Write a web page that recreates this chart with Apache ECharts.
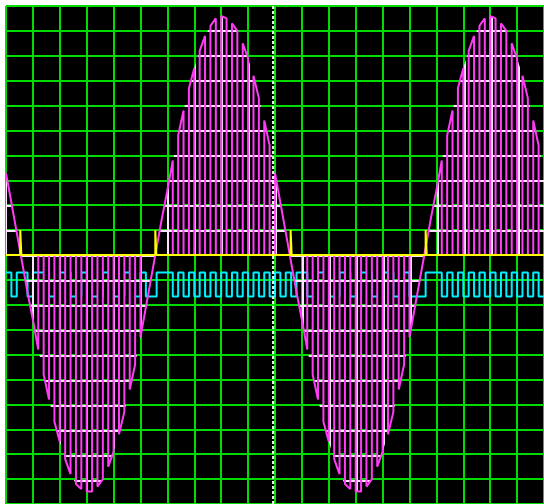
<!DOCTYPE html>
<html>
<head>
<meta charset="utf-8">
<style>
  html, body { margin: 0; padding: 0; background: #ffffff; }
  #scope { width: 544px; height: 504px; }
</style>
<script src="https://cdn.jsdelivr.net/npm/echarts@6/dist/echarts.min.js"></script>
</head>
<body>
<div id="scope"></div>
<script>
// Screen is 20 x 20 divisions; time runs along x, volts along y (divisions).
const SLOT = 0.2;            // width of one chopper slot, in divisions

// Envelope of the chopped sine at each slot edge (101 edges).
const envelope = [
  3.3, 2.1, 0.9, -0.3, -1.5, -2.6, -3.8, -4.8, -5.8, -6.7,
  -7.5, -8.2, -8.8, -9.2, -9.4, -9.5, -9.5, -9.3, -9.0, -8.5,
  -7.9, -7.2, -6.3, -5.4, -4.4, -3.3, -2.1, -0.9, 0.3, 1.5,
  2.6, 3.8, 4.8, 5.8, 6.7, 7.5, 8.2, 8.8, 9.2, 9.5,
  9.6, 9.5, 9.3, 9.0, 8.5, 7.9, 7.2, 6.3, 5.4, 4.4,
  3.3, 2.1, 0.9, -0.3, -1.5, -2.6, -3.8, -4.8, -5.8, -6.7,
  -7.5, -8.2, -8.8, -9.2, -9.4, -9.5, -9.5, -9.3, -9.0, -8.5,
  -7.9, -7.2, -6.3, -5.4, -4.4, -3.3, -2.1, -0.9, 0.3, 1.5,
  2.6, 3.8, 4.8, 5.8, 6.7, 7.5, 8.2, 8.8, 9.2, 9.5,
  9.6, 9.5, 9.3, 9.0, 8.5, 7.9, 7.2, 6.3, 5.4, 4.4,
  3.3
];

// Chopper state per slot: r = follows the sine near zero, 1 = pulse on, 0 = off.
const gateSegments = [
  "rrrrrr", "0101010101010101010",
  "rrrrrr", "0101010101010101010",
  "rrrrrr", "0101010101010101010",
  "rrrrrr", "0101010101010101010"
];

// Gate drive signal (cyan trace) per slot: 1 = high, 0 = low.
const driveSegments = [
  "101101", "1100110011001100110",
  "100111", "0101010101010101010",
  "101011", "0011001100110011001",
  "000111", "0101010101010101010"
];
const driveHigh = -0.7;
const driveLow = -1.67;

// Zero-cross detector pulses (yellow trace).
const zeroCrossX = [0.53, 5.55, 10.58, 15.6];
const zeroPulseHeight = 1.0;
const zeroPulseWidth = 0.04;

// Trigger cursor position.
const cursorX = 9.93;

// ---- build traces from the arrays above ----
const gate = gateSegments.join("");
const drive = driveSegments.join("");
const nSlots = gate.length;
const edgeX = k => +(k * SLOT).toFixed(4);

const choppedLine = [];
const choppedFill = [];
const envelopeArea = [];
const driveLine = [];
for (let k = 0; k < nSlots; k++) {
  const g = gate[k];
  const on = g !== "0";
  const a = on ? envelope[k] : 0;
  const b = on ? envelope[k + 1] : 0;
  choppedLine.push([edgeX(k), a], [edgeX(k + 1), b]);
  const fa = g === "1" ? envelope[k] : 0;
  const fb = g === "1" ? envelope[k + 1] : 0;
  choppedFill.push([edgeX(k), fa], [edgeX(k + 1), fb]);
  const lv = drive[k] === "1" ? driveHigh : driveLow;
  driveLine.push([edgeX(k), lv], [edgeX(k + 1), lv]);
}
for (let k = 0; k <= nSlots; k++) envelopeArea.push([edgeX(k), envelope[k]]);

const zeroLine = [[0, 0]];
zeroCrossX.forEach(x => {
  zeroLine.push([x, 0], [x, zeroPulseHeight], [x + zeroPulseWidth, zeroPulseHeight], [x + zeroPulseWidth, 0]);
});
zeroLine.push([20, 0]);

// Graticule lines seen through the signal area are drawn pale.
const DIV_W = 27, DIV_H = 25;
const tile = document.createElement("canvas");
tile.width = DIV_W; tile.height = DIV_H;
const tctx = tile.getContext("2d");
tctx.fillStyle = "#ffe2ff";
tctx.fillRect(5, 0, 2, DIV_H);
tctx.fillRect(0, 5, DIV_W, 2);

const gridGreen = "#00dc00";
const chart = echarts.init(document.getElementById("scope"), null, { renderer: "canvas" });
chart.setOption({
  animation: false,
  backgroundColor: "#ffffff",
  grid: {
    left: 6, top: 6, width: 540, height: 500,
    show: true, backgroundColor: "#000000", borderWidth: 0
  },
  xAxis: {
    type: "value", min: 0, max: 20, interval: 1,
    axisLine: { show: false }, axisTick: { show: false }, axisLabel: { show: false },
    splitLine: { show: true, lineStyle: { color: gridGreen, width: 2 } }
  },
  yAxis: {
    type: "value", min: -10, max: 10, interval: 1,
    axisLine: { show: false }, axisTick: { show: false }, axisLabel: { show: false },
    splitLine: { show: true, lineStyle: { color: gridGreen, width: 2 } }
  },
  series: [
    {
      name: "drive", type: "line", data: driveLine, z: 2,
      showSymbol: false, silent: true,
      lineStyle: { color: "#00f0ff", width: 2 }
    },
    {
      name: "pulse body", type: "line", data: choppedFill, z: 3,
      showSymbol: false, silent: true,
      lineStyle: { width: 0, opacity: 0 },
      areaStyle: { color: "#000000", opacity: 1, origin: 0 }
    },
    {
      name: "envelope", type: "line", data: envelopeArea, z: 4,
      showSymbol: false, silent: true,
      lineStyle: { width: 0, opacity: 0 },
      areaStyle: { color: { image: tile, repeat: "repeat" }, opacity: 1, origin: 0 }
    },
    {
      name: "output", type: "line", data: choppedLine, z: 5,
      showSymbol: false, silent: true,
      lineStyle: { color: "#ff3cf5", width: 2 }
    },
    {
      name: "zero cross", type: "line", data: zeroLine, z: 6,
      showSymbol: false, silent: true,
      lineStyle: { color: "#ffff00", width: 2 }
    },
    {
      name: "cursor", type: "line", data: [[cursorX, -10], [cursorX, 10]], z: 7,
      showSymbol: false, silent: true,
      lineStyle: { color: "#ffffff", width: 2, type: [3, 2] }
    }
  ]
});
</script>
</body>
</html>
